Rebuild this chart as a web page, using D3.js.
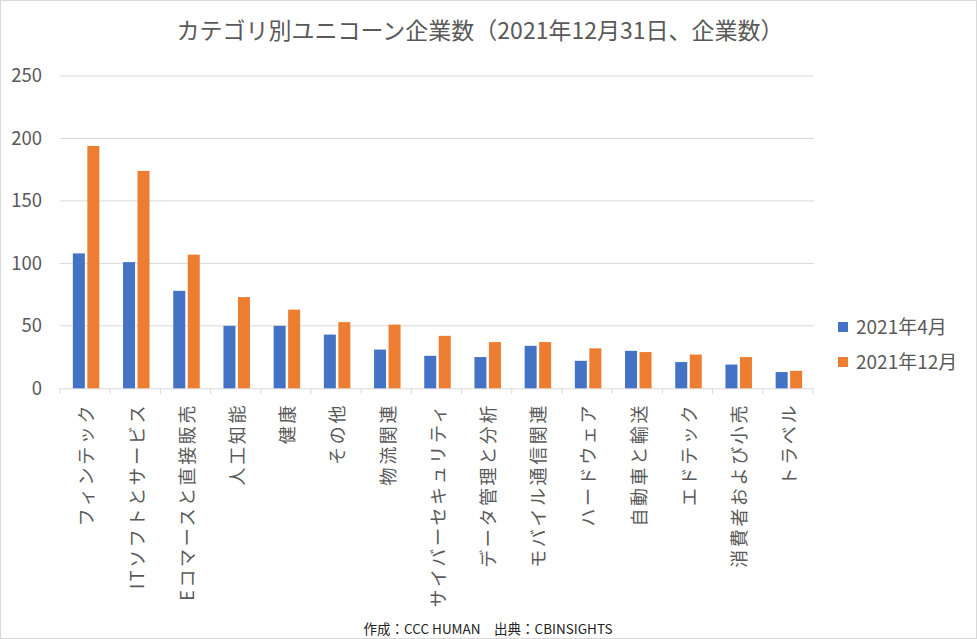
<!DOCTYPE html>
<html><head><meta charset="utf-8">
<script src="https://cdn.jsdelivr.net/npm/d3@7"></script>
<style>
body{margin:0;background:#fff;}
text{font-family:"Noto Sans CJK JP","Noto Sans",sans-serif;}
</style></head>
<body><svg id="c" width="977" height="639"></svg>
<script>
const categories = ["フィンテック","ITソフトとサービス","Eコマースと直接販売","人工知能","健康","その他","物流関連","サイバーセキュリティ","データ管理と分析","モバイル通信関連","ハードウェア","自動車と輸送","エドテック","消費者および小売","トラベル"];
const seriesNames = ["2021年4月","2021年12月"];
const apr2021 = [108,101,78,50,50,43,31,26,25,34,22,30,21,19,13];
const dec2021 = [194,174,107,73,63,53,51,42,37,37,32,29,27,25,14];
const yTicks = [0,50,100,150,200,250];
const colors = ["#4472C4","#ED7D31"];

const svg = d3.select("#c");
svg.append("rect").attr("x",0.5).attr("y",0.5).attr("width",976).attr("height",638)
  .attr("fill","#fff").attr("stroke","#d9d9d9");

const x = d3.scaleBand().domain(categories).range([60,813]).paddingInner(0).paddingOuter(0);
const y = d3.scaleLinear().domain([0,250]).range([388.3,76]);

// gridlines
svg.append("g").selectAll("line").data(yTicks.filter(d=>d>0)).join("line")
  .attr("x1",60).attr("x2",814).attr("y1",d=>y(d)).attr("y2",d=>y(d))
  .attr("stroke","#d9d9d9").attr("stroke-width",1);

// y labels
svg.append("g").selectAll("text").data(yTicks).join("text")
  .attr("x",42).attr("y",d=>y(d)).attr("dy","0.35em").attr("text-anchor","end")
  .attr("font-size",18.5).attr("fill","#595959").text(d=>d);

// x axis
const xAxis = d3.axisBottom(x).tickSize(0).tickFormat("");
const gx = svg.append("g").attr("transform","translate(0,388.3)").call(xAxis);
gx.select(".domain").attr("stroke","#d9d9d9");
svg.append("g").selectAll("line").data(d3.range(categories.length+1)).join("line")
  .attr("x1",i=>60+i*x.bandwidth()).attr("x2",i=>60+i*x.bandwidth())
  .attr("y1",388.3).attr("y2",394).attr("stroke","#d9d9d9");

// bars
const bw = 12, gap = 2.5;
const sub = d3.scaleOrdinal().domain(seriesNames).range([-(bw+gap/2)+1, gap/2+1]);
const data = categories.map((c,i)=>({c, vals:[apr2021[i],dec2021[i]]}));
const grp = svg.append("g").selectAll("g").data(data).join("g")
  .attr("transform",d=>`translate(${x(d.c)+x.bandwidth()/2},0)`);
grp.selectAll("rect").data(d=>d.vals.map((v,k)=>({v,k}))).join("rect")
  .attr("x",d=>sub(seriesNames[d.k])).attr("width",bw)
  .attr("y",d=>y(d.v)).attr("height",d=>y(0)-y(d.v))
  .attr("fill",d=>colors[d.k]);

// x labels
svg.append("g").selectAll("text").data(categories).join("text")
  .attr("transform",d=>`translate(${x(d)+x.bandwidth()/2+2},403) rotate(-90)`)
  .attr("text-anchor","end").attr("dy","0.35em")
  .attr("font-size",18).attr("letter-spacing","2.6px").attr("fill","#595959").text(d=>d);

// title
svg.append("text").attr("x",480).attr("y",31).attr("dy","0.35em").attr("text-anchor","middle")
  .attr("font-size",23).attr("fill","#595959").text("カテゴリ別ユニコーン企業数（2021年12月31日、企業数）");

// legend
const lg = svg.append("g").selectAll("g").data(seriesNames).join("g")
  .attr("transform",(d,i)=>`translate(838,${327+i*35})`);
lg.append("rect").attr("x",0).attr("y",-5).attr("width",10).attr("height",10).attr("fill",(d,i)=>colors[i]);
lg.append("text").attr("x",18).attr("y",0).attr("dy","0.35em").attr("font-size",19)
  .attr("fill","#595959").text(d=>d);

// footer
svg.append("text").attr("x",488).attr("y",629).attr("dy","0.35em").attr("text-anchor","middle")
  .attr("font-size",13.5).attr("fill","#222").text("作成：CCC HUMAN　出典：CBINSIGHTS");
</script></body></html>
